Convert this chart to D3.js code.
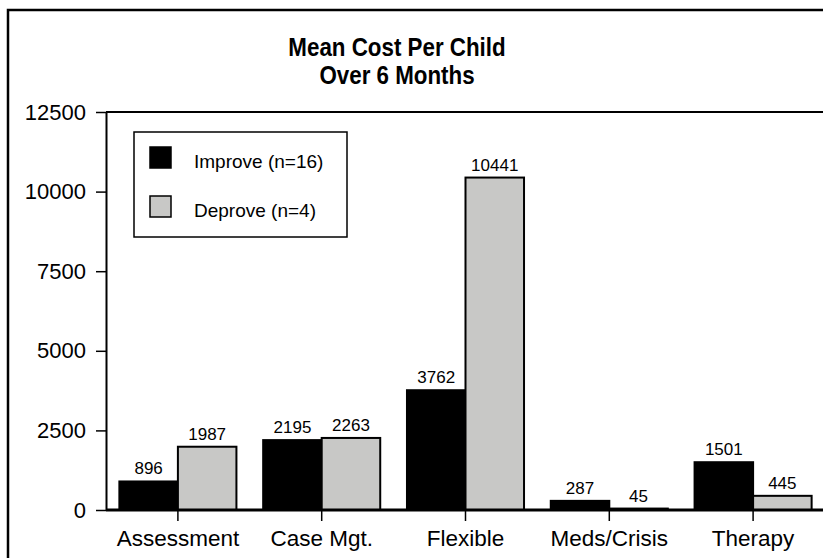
<!DOCTYPE html>
<html>
<head>
<meta charset="utf-8">
<script src="https://cdn.jsdelivr.net/npm/d3@7"></script>
<style>
	body { margin: 0; background: #fff; }
	text { font-family: Arial, "Liberation Sans", Helvetica, sans-serif; fill: #000; }
</style>
</head>
<body>
<div id="chartDiv"></div>
<script>
;(function() {

	var categories = ["Assessment", "Case Mgt.", "Flexible", "Meds/Crisis", "Therapy"];
	var seriesNames = ["Improve (n=16)", "Deprove (n=4)"];
	var improveValues = [896, 2195, 3762, 287, 1501];
	var deproveValues = [1987, 2263, 10441, 45, 445];
	var yTicks = [0, 2500, 5000, 7500, 10000, 12500];
	var titleLines = ["Mean Cost Per Child", "Over 6 Months"];

	var width = 823;
	var height = 558;
	var plot = { left: 106, right: 825, top: 112, bottom: 510 };
	var colors = ["#000000", "#c8c8c6"];

	var svg = d3.select("#chartDiv").append("svg")
		.attr("width", width)
		.attr("height", height);

	// outer frame (runs off the right/bottom edge like the original)
	svg.append("rect")
		.attr("x", 8).attr("y", 10)
		.attr("width", 900).attr("height", 700)
		.attr("fill", "none")
		.attr("stroke", "#000")
		.attr("stroke-width", 2.5);

	// title - narrow bold face, squeezed horizontally
	svg.selectAll(".title")
		.data(titleLines)
		.enter().append("text")
		.attr("class", "title")
		.attr("transform", function(d, i) { return "translate(397," + (56 + i * 28) + ") scale(0.86,1)"; })
		.attr("text-anchor", "middle")
		.style("font-size", "26px")
		.style("font-weight", "bold")
		.text(function(d) { return d; });

	// scales
	var xScale = d3.scaleBand()
		.domain(categories)
		.range([plot.left, plot.right])
		.paddingInner(0.186)
		.paddingOuter(0.093);

	var xInner = d3.scaleBand()
		.domain([0, 1])
		.range([0, xScale.bandwidth()]);

	var yScale = d3.scaleLinear()
		.domain([0, 12500])
		.range([plot.bottom, plot.top]);

	// plot frame top
	svg.append("path")
		.attr("d", "M" + plot.left + "," + plot.top + "H" + (plot.right + 20))
		.attr("stroke", "#000")
		.attr("stroke-width", 2)
		.attr("fill", "none");

	// y axis
	var yAxis = d3.axisLeft(yScale)
		.tickValues(yTicks)
		.tickFormat(d3.format("d"))
		.tickSize(10)
		.tickPadding(10)
		.tickSizeOuter(0);

	var yAxisContainer = svg.append("g")
		.attr("transform", "translate(" + plot.left + ",0)")
		.call(yAxis);
	yAxisContainer.select(".domain").attr("stroke-width", 2);
	yAxisContainer.selectAll(".tick line").attr("stroke-width", 1.5);
	yAxisContainer.selectAll(".tick text")
		.style("font-size", "22px")
		.style("font-family", "Arial, 'Liberation Sans', sans-serif");

	// bars
	var rows = categories.map(function(c, i) {
		return { cat: c, values: [improveValues[i], deproveValues[i]] };
	});

	var groups = svg.selectAll(".group")
		.data(rows)
		.enter().append("g")
		.attr("class", "group")
		.attr("transform", function(d) { return "translate(" + xScale(d.cat) + ",0)"; });

	groups.selectAll("rect")
		.data(function(d) { return d.values.map(function(v, k) { return { k: k, v: v }; }); })
		.enter().append("rect")
		.attr("x", function(d) { return xInner(d.k); })
		.attr("y", function(d) { return yScale(d.v); })
		.attr("width", xInner.bandwidth())
		.attr("height", function(d) { return yScale(0) - yScale(d.v); })
		.attr("fill", function(d) { return colors[d.k]; })
		.attr("stroke", "#000")
		.attr("stroke-width", 2);

	groups.selectAll(".val")
		.data(function(d) { return d.values.map(function(v, k) { return { k: k, v: v }; }); })
		.enter().append("text")
		.attr("class", "val")
		.attr("x", function(d) { return xInner(d.k) + xInner.bandwidth() / 2; })
		.attr("y", function(d) { return yScale(d.v) - 7; })
		.attr("text-anchor", "middle")
		.style("font-size", "17px")
		.text(function(d) { return d.v; });

	// x axis
	var xAxis = d3.axisBottom(xScale)
		.tickSize(11)
		.tickPadding(9)
		.tickSizeOuter(0);

	var xAxisContainer = svg.append("g")
		.attr("transform", "translate(0," + plot.bottom + ")")
		.call(xAxis);
	xAxisContainer.select(".domain").remove();
	xAxisContainer.selectAll(".tick line").attr("stroke-width", 1.5);
	xAxisContainer.selectAll(".tick text")
		.style("font-size", "22.5px")
		.style("font-family", "Arial, 'Liberation Sans', sans-serif");

	// thick baseline
	svg.append("path")
		.attr("d", "M" + plot.left + "," + plot.bottom + "H" + (plot.right + 20))
		.attr("stroke", "#000")
		.attr("stroke-width", 3);

	// legend
	var legend = svg.append("g").attr("transform", "translate(134,132)");
	legend.append("rect")
		.attr("width", 213).attr("height", 105)
		.attr("fill", "#fff")
		.attr("stroke", "#000")
		.attr("stroke-width", 1.5);

	var items = legend.selectAll(".item")
		.data(seriesNames)
		.enter().append("g")
		.attr("class", "item")
		.attr("transform", function(d, i) { return "translate(0," + (i * 49) + ")"; });

	items.append("rect")
		.attr("x", 16).attr("y", 15)
		.attr("width", 21).attr("height", 21)
		.attr("fill", function(d, i) { return colors[i]; })
		.attr("stroke", "#000")
		.attr("stroke-width", 1.5);

	items.append("text")
		.attr("x", 60)
		.attr("y", 36)
		.style("font-size", "19px")
		.text(function(d) { return d; });

})();
</script>
</body>
</html>
